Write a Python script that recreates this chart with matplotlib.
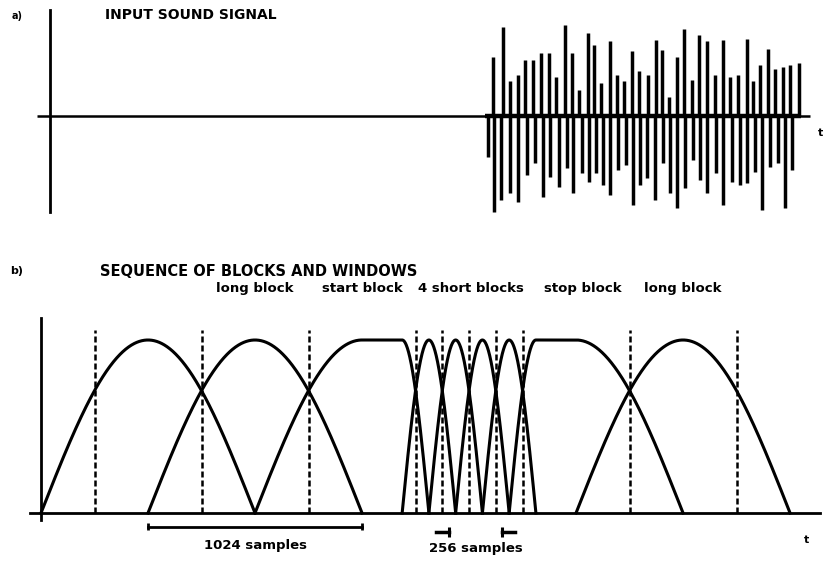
import numpy as np
import matplotlib
matplotlib.use("Agg")
import matplotlib.pyplot as plt

plt.rcParams['font.family'] = ['DejaVu Sans']
plt.rcParams['font.weight'] = 'bold'

# a) input signal: spike times (arbitrary time units) and amplitudes
up_t = [59.1, 60.4, 61.4, 62.4, 63.3, 64.4, 65.4, 66.6, 67.5, 68.7, 69.6, 70.6,
        71.7, 72.5, 73.4, 74.7, 75.6, 76.5, 77.6, 78.6, 79.8, 80.8, 81.6, 82.6,
        83.6, 84.6, 85.6, 86.6, 87.6, 88.7, 89.8, 90.7, 91.8, 92.9, 93.7, 94.7,
        95.8, 96.7, 97.8, 98.7, 99.9]
up_amp = [0.65, 0.98, 0.38, 0.45, 0.62, 0.62, 0.69, 0.69, 0.43, 1.00, 0.69, 0.29,
          0.91, 0.78, 0.36, 0.82, 0.45, 0.38, 0.71, 0.49, 0.45, 0.84, 0.73, 0.21,
          0.65, 0.96, 0.40, 0.89, 0.82, 0.45, 0.84, 0.43, 0.45, 0.85, 0.38, 0.56,
          0.74, 0.52, 0.54, 0.56, 0.58]
down_t = [58.4, 59.2, 60.2, 61.4, 62.4, 63.6, 64.7, 65.7, 66.7, 67.8, 68.9, 69.7,
          70.9, 71.9, 72.8, 73.8, 74.7, 75.8, 76.8, 77.7, 78.7, 79.6, 80.7, 81.8,
          82.7, 83.6, 84.7, 85.7, 86.7, 87.6, 88.8, 89.8, 90.9, 92.0, 92.9, 94.0,
          94.9, 96.0, 97.1, 98.0, 98.9]
down_amp = [-0.45, -1.05, -0.92, -0.85, -0.94, -0.65, -0.52, -0.89, -0.67, -0.78,
            -0.57, -0.85, -0.63, -0.72, -0.63, -0.76, -0.87, -0.59, -0.54, -0.98,
            -0.76, -0.68, -0.92, -0.52, -0.85, -1.01, -0.79, -0.48, -0.70, -0.85,
            -0.63, -0.98, -0.72, -0.76, -0.74, -0.61, -1.03, -0.56, -0.52, -1.01,
            -0.59]

# b) windows in samples: (rise start, rise end, fall start, fall end)
windows = [
    (0, 512, 512, 1024),        # long
    (512, 1024, 1024, 1536),    # long
    (1024, 1536, 1728, 1856),   # start
    (1728, 1856, 1856, 1984),   # short 1
    (1856, 1984, 1984, 2112),   # short 2
    (1984, 2112, 2112, 2240),   # short 3
    (2112, 2240, 2240, 2368),   # short 4
    (2240, 2368, 2560, 3072),   # stop
    (2560, 3072, 3072, 3584),   # long
]
block_bounds = [256, 768, 1280, 1792, 1920, 2048, 2176, 2304, 2816, 3328]
block_labels = ["long block", "start block", "4 short blocks", "stop block", "long block"]
label_pos = [1024, 1536, 2056, 2592, 3072]
long_span = (512, 1536)
short_span = (1952, 2208)

W, H = 824, 561
fig = plt.figure(figsize=(W / 100, H / 100), dpi=100)


def px_axes(x0, y0, x1, y1):
    return fig.add_axes([x0 / W, 1 - y1 / H, (x1 - x0) / W, (y1 - y0) / H])


# ---- a) input sound signal
ax_a = px_axes(0, 0, W, 230)
ax_a.set_xlim(-50 / 7.5, (W - 50) / 7.5)
ax_a.set_ylim((116 - 230) / 91, 116 / 91)
ax_a.axis('off')

ax_a.plot([-1.7, 101.3], [0, 0], color='k', lw=1.8, solid_capstyle='butt')
ax_a.plot([58, 100.2], [0, 0], color='k', lw=3.2, solid_capstyle='butt')
ax_a.plot([0, 0], [-1.055, 1.165], color='k', lw=2.0)
ax_a.vlines(up_t, 0, up_amp, color='k', lw=2.5)
ax_a.vlines(down_t, 0, down_amp, color='k', lw=2.5)
ax_a.text(102.7, -0.19, "t", fontsize=8, ha='center', va='center')

fig.text(12 / W, 1 - 16 / H, "a)", fontsize=7, ha='left', va='center')
fig.text(105 / W, 1 - 15 / H, "INPUT SOUND SIGNAL", fontsize=10, ha='left', va='center')

# ---- b) sequence of blocks and windows
ax_b = px_axes(0, 230, W, H)
sc = 0.209  # px per sample
ax_b.set_xlim(-41 / sc, (W - 41) / sc)
ax_b.set_ylim((513 - H) / 173, (513 - 230) / 173)
ax_b.axis('off')

ax_b.plot([-53, 3727], [0, 0], color='k', lw=2.0)
ax_b.plot([0, 0], [-0.04, 1.13], color='k', lw=2.0)

for a, b, c, d in windows:
    x = np.linspace(a, d, 600)
    y = np.ones_like(x)
    r = x < b
    y[r] = np.sin(0.5 * np.pi * (x[r] - a) / (b - a))
    f = x > c
    y[f] = np.cos(0.5 * np.pi * (x[f] - c) / (d - c))
    ax_b.plot(x, y, color='k', lw=2.2)

ax_b.vlines(block_bounds, 0, 1.06, color='k', lw=1.8, linestyles=(0, (2.4, 1.2)))

for lab, xp in zip(block_labels, label_pos):
    ax_b.text(xp, 1.30, lab, fontsize=9.5, ha='center', va='center')

# 1024 samples bracket
ax_b.plot(long_span, [-0.08, -0.08], color='k', lw=2.0)
ax_b.vlines(long_span, -0.10, -0.06, color='k', lw=2.0)
ax_b.text(sum(long_span) / 2, -0.185, "1024 samples", fontsize=9.5, ha='center', va='center')

# 256 samples markers
ax_b.plot([short_span[0] - 60, short_span[0]], [-0.11, -0.11], color='k', lw=2.5)
ax_b.plot([short_span[1], short_span[1] + 60], [-0.11, -0.11], color='k', lw=2.5)
ax_b.vlines(short_span, -0.14, -0.08, color='k', lw=2.2)
ax_b.text(sum(short_span) / 2, -0.205, "256 samples", fontsize=9.5, ha='center', va='center')

ax_b.text((806 - 41) / sc, -0.156, "t", fontsize=8, ha='center', va='center')

fig.text(10 / W, 1 - 271 / H, "b)", fontsize=8, ha='left', va='center')
fig.text(100 / W, 1 - 272 / H, "SEQUENCE OF BLOCKS AND WINDOWS", fontsize=10.5,
         ha='left', va='center')

fig.savefig("out.png", dpi=100)
